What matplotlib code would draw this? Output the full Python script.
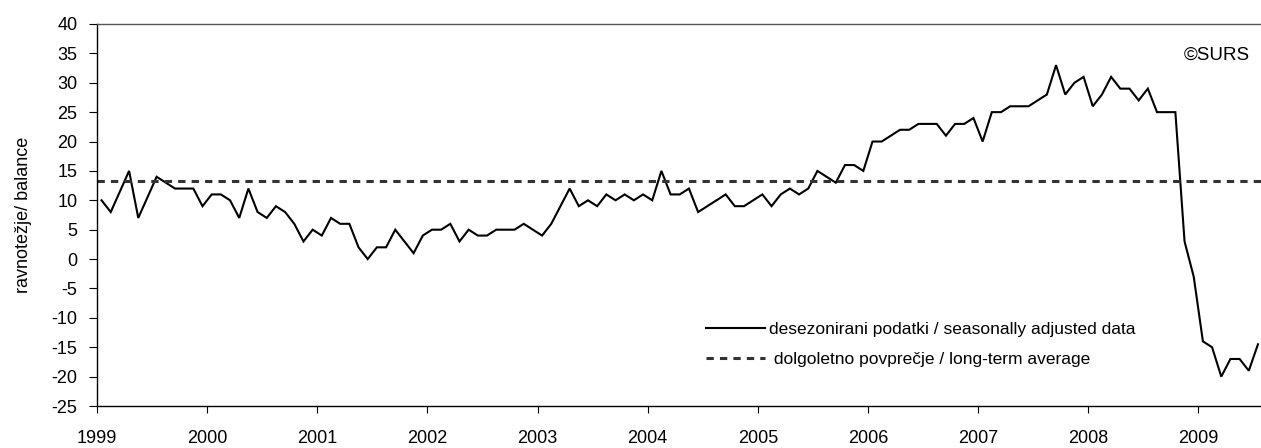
import numpy as np
import matplotlib
matplotlib.use('Agg')
import matplotlib.pyplot as plt
from matplotlib.lines import Line2D

# ------------------------ Dados (mensal, jan 1999 - jul 2009) ------------------------
years = [1999, 2000, 2001, 2002, 2003, 2004, 2005, 2006, 2007, 2008, 2009]

v1999 = [10, 8, 11.5, 15, 7, 10.5, 14, 13, 12, 12, 12, 9]
v2000 = [11, 11, 10, 7, 12, 8, 7, 9, 8, 6, 3, 5]
v2001 = [4, 7, 6, 6, 2, 0, 2, 2, 5, 3, 1, 4]
v2002 = [5, 5, 6, 3, 5, 4, 4, 5, 5, 5, 6, 5]
v2003 = [4, 6, 9, 12, 9, 10, 9, 11, 10, 11, 10, 11]
v2004 = [10, 15, 11, 11, 12, 8, 9, 10, 11, 9, 9, 10]
v2005 = [11, 9, 11, 12, 11, 12, 15, 14, 13, 16, 16, 15]
v2006 = [20, 20, 21, 22, 22, 23, 23, 23, 21, 23, 23, 24]
v2007 = [20, 25, 25, 26, 26, 26, 27, 28, 33, 28, 30, 31]
v2008 = [26, 28, 31, 29, 29, 27, 29, 25, 25, 25, 3, -3]
v2009 = [-14, -15, -20, -17, -17, -19, -14.5]

long_term_avg = 13.3

label_sa = 'desezonirani podatki / seasonally adjusted data'
label_avg = ' dolgoletno povprečje / long-term average'
ylabel = 'ravnotežje/ balance'
source = '©SURS'

values = np.array(v1999 + v2000 + v2001 + v2002 + v2003 + v2004 +
                  v2005 + v2006 + v2007 + v2008 + v2009, dtype=float)
x = np.arange(len(values)) + 0.5   # pontos no centro de cada mes

plt.rcParams['font.family'] = ['Liberation Sans', 'DejaVu Sans']
plt.rcParams['axes.unicode_minus'] = False

# ------------------------ Figura ------------------------
fig = plt.figure(figsize=(12.61, 4.48), dpi=100)
ax = fig.add_axes([0.0769, 0.09375, 0.9231, 0.8527])

ax.plot(x, values, color='black', linewidth=1.5, solid_joinstyle='miter')
ax.axhline(long_term_avg, color='#333333', linewidth=2.2, dashes=(2.4, 2.0))

ax.set_xlim(0, 126.83)
ax.set_ylim(-25, 40)
ax.set_yticks(np.arange(-25, 41, 5))
ax.set_xticks(np.arange(len(years)) * 12)
ax.set_xticklabels([str(y) for y in years])

ax.tick_params(axis='y', direction='out', length=6, width=0.8, pad=8, labelsize=13)
ax.tick_params(axis='x', direction='out', length=5, width=0.8, pad=12, labelsize=13)

ax.spines['right'].set_visible(False)
ax.spines['top'].set_color('#555555')
ax.spines['top'].set_linewidth(1.0)
ax.spines['left'].set_linewidth(1.0)
ax.spines['bottom'].set_linewidth(1.0)

ax.set_ylabel(ylabel, fontsize=13, labelpad=14)

ax.text(0.9906, 0.919, source, transform=ax.transAxes, ha='right', va='center',
        fontsize=13.5)

handles = [Line2D([], [], color='black', linewidth=1.5),
           Line2D([], [], color='#333333', linewidth=2.2, dashes=(2.4, 2.0))]
ax.legend(handles, [label_sa, label_avg], loc='upper left',
          bbox_to_anchor=(0.5233, 0.22), frameon=False, fontsize=12.5,
          handlelength=3.4, handletextpad=0.2, labelspacing=0.85,
          borderpad=0, borderaxespad=0)

fig.savefig('out.png', dpi=100)
